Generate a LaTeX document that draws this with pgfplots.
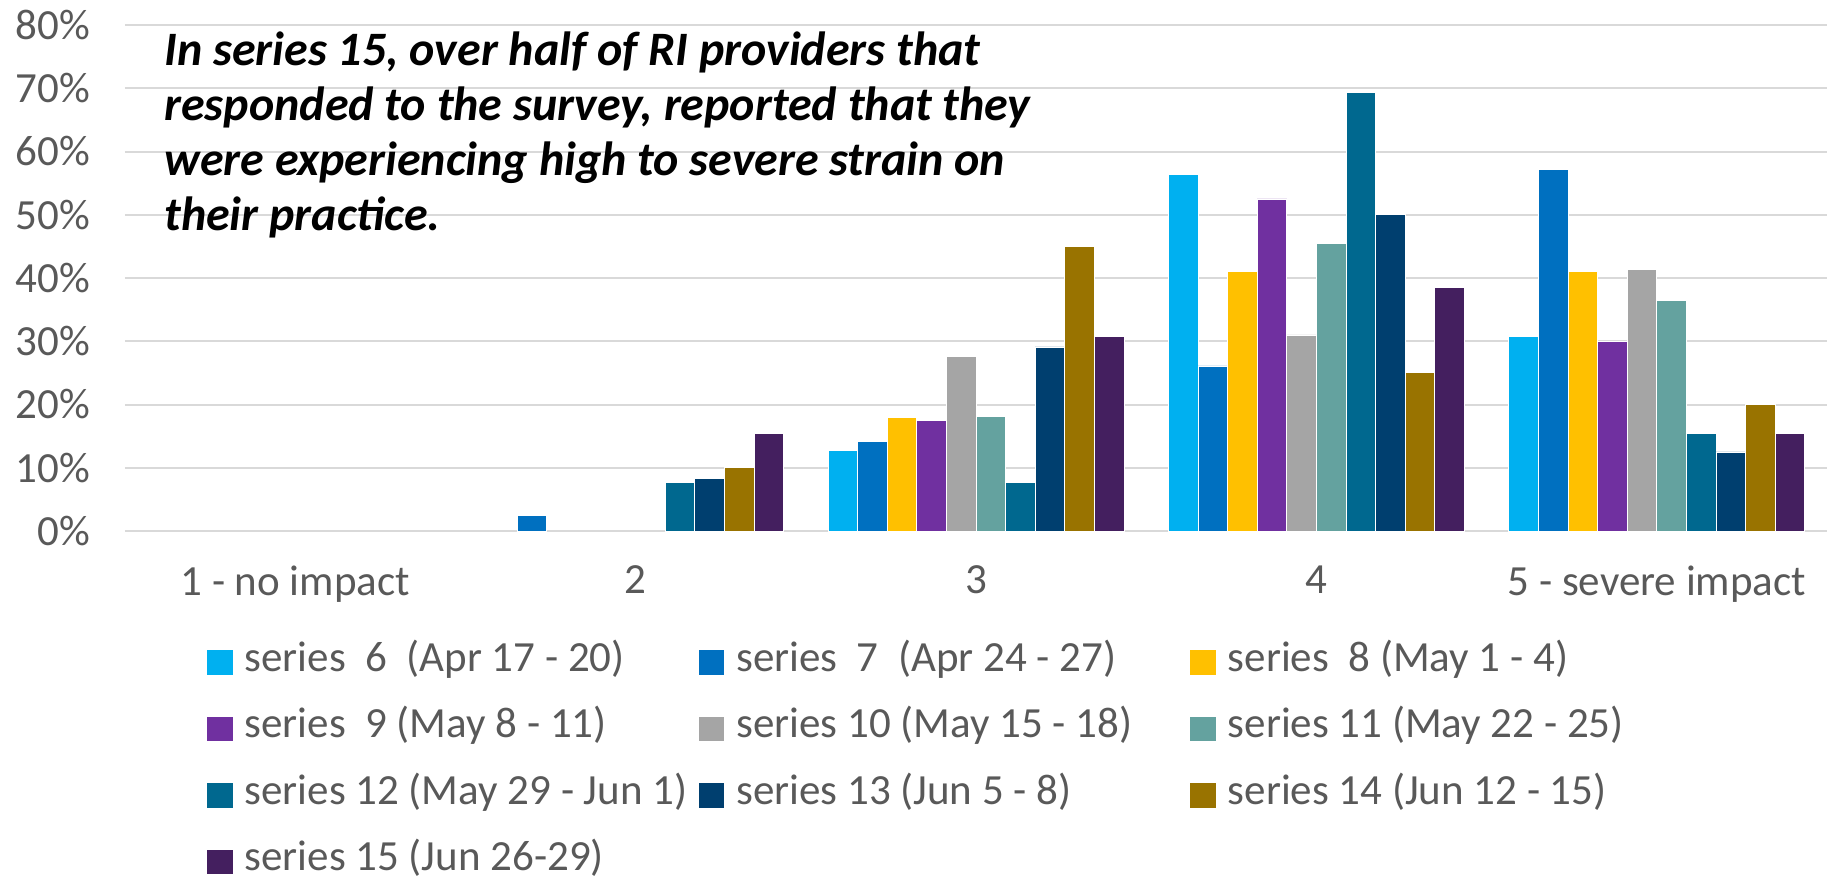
\documentclass[border=0pt]{standalone}
\usepackage{pgfplots}
\pgfplotsset{compat=1.18}
\usepackage{fontspec}
\setmainfont{Carlito}
\definecolor{cA}{HTML}{00B0F0}
\definecolor{cB}{HTML}{0070C0}
\definecolor{cC}{HTML}{FFC000}
\definecolor{cD}{HTML}{7030A0}
\definecolor{cE}{HTML}{A5A5A5}
\definecolor{cF}{HTML}{64A29F}
\definecolor{cG}{HTML}{00688F}
\definecolor{cH}{HTML}{003F6F}
\definecolor{cI}{HTML}{997300}
\definecolor{cJ}{HTML}{441F5F}
\definecolor{txtgray}{HTML}{595959}
\definecolor{gridgray}{HTML}{D9D9D9}
\newcommand{\lb}[1]{\hspace{3pt}\makebox[224pt][l]{#1}}
\begin{document}
\begin{tikzpicture}
\useasboundingbox (-62.5pt,-175.5pt) rectangle (853pt,265.5pt);
\begin{axis}[
  at={(0,0)}, anchor=south west,
  scale only axis, width=851pt, height=253pt,
  xmin=-0.5, xmax=4.5, ymin=0, ymax=80,
  ybar=0pt, bar width=14.8pt,
  xtick={0,1,2,3,4},
  xticklabels={1 - no impact,2,3,4,5 - severe impact},
  ytick={0,10,20,30,40,50,60,70,80},
  yticklabels={0\%,10\%,20\%,30\%,40\%,50\%,60\%,70\%,80\%},
  major tick length=0pt,
  axis line style={draw=none},
  ymajorgrids, grid style={gridgray, line width=1pt},
  tick label style={font=\fontsize{21.5}{25}\selectfont, text=txtgray},
  yticklabel style={anchor=east, xshift=-14pt},
  xticklabel style={anchor=north, yshift=-14pt},
  /pgf/number format/assume math mode=true,
  every axis plot/.append style={draw=white, line width=0.4pt},
  legend columns=3,
  legend cell align=left,
  legend image code/.code={\fill[#1, draw=none] (0pt,-6.2pt) rectangle (12.8pt,6.2pt);},
  legend style={draw=none, fill=none, inner sep=0pt,
    at={([xshift=40.8pt, yshift=-56pt]axis description cs:0,0)}, anchor=north west,
    font=\fontsize{21.5}{25}\selectfont, text=txtgray,
    nodes={inner xsep=3pt, inner ysep=0pt, text height=14pt, text depth=5pt},
    row sep=14.25pt, /tikz/every even column/.append style={column sep=0pt}},
]
\addplot[fill=cA] coordinates {(2,12.8) (3,56.4) (4,30.8)};
\addlegendentry{\lb{series\ \ 6\ \ (Apr 17 - 20)}}
\addplot[fill=cB] coordinates {(1,2.4) (2,14.2) (3,26.1) (4,57.2)};
\addlegendentry{\lb{series\ \ 7\ \ (Apr 24 - 27)}}
\addplot[fill=cC] coordinates {(2,17.9) (3,41.0) (4,41.0)};
\addlegendentry{\lb{series\ \ 8 (May 1 - 4)}}
\addplot[fill=cD] coordinates {(2,17.5) (3,52.5) (4,30.0)};
\addlegendentry{\lb{series\ \ 9 (May 8 - 11)}}
\addplot[fill=cE] coordinates {(2,27.6) (3,31.0) (4,41.4)};
\addlegendentry{\lb{series 10 (May 15 - 18)}}
\addplot[fill=cF] coordinates {(2,18.1) (3,45.4) (4,36.4)};
\addlegendentry{\lb{series 11 (May 22 - 25)}}
\addplot[fill=cG] coordinates {(1,7.7) (2,7.7) (3,69.3) (4,15.4)};
\addlegendentry{\lb{series 12 (May 29 - Jun 1)}}
\addplot[fill=cH] coordinates {(1,8.3) (2,29.1) (3,50.0) (4,12.5)};
\addlegendentry{\lb{series 13 (Jun 5 - 8)}}
\addplot[fill=cI] coordinates {(1,10.0) (2,45.0) (3,25.0) (4,20.0)};
\addlegendentry{\lb{series 14 (Jun 12 - 15)}}
\addplot[fill=cJ] coordinates {(1,15.4) (2,30.8) (3,38.5) (4,15.4)};
\addlegendentry{\lb{series 15 (Jun 26-29)}}
\node[anchor=north west, align=left, inner sep=0pt,
  font=\bfseries\itshape\fontsize{24}{27.5}\selectfont]
  at ([xshift=19.5pt, yshift=-3pt]axis description cs:0,1)
  {In series 15, over half of RI providers that\\
   responded to the survey, reported that they\\
   were experiencing high to severe strain on\\
   their practice.};
\end{axis}
\end{tikzpicture}
\end{document}
